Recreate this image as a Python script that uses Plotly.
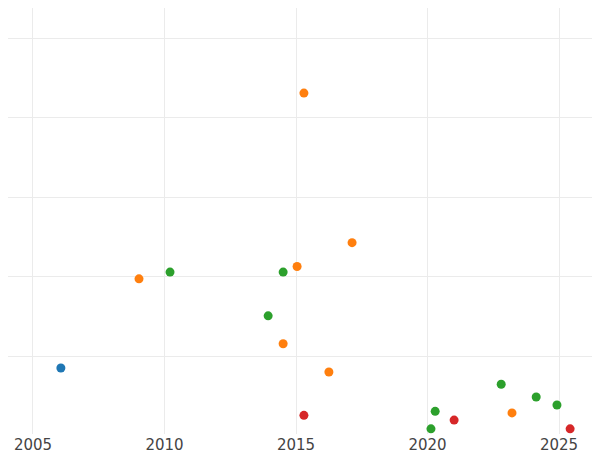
import plotly.graph_objects as go

blue_x=[2006.06]; blue_y=[0.855]
orange_x=[2009.03,2015.30,2017.13,2015.04,2014.51,2016.25,2023.21]
orange_y=[1.975,4.31,2.43,2.13,1.16,0.805,0.29]
green_x=[2010.21,2014.51,2013.94,2020.29,2020.13,2022.80,2024.13,2024.92]
green_y=[2.06,2.06,1.51,0.31,0.09,0.65,0.49,0.39]
red_x=[2015.30,2021.01,2025.42]
red_y=[0.26,0.20,0.09]

fig=go.Figure()
for xs,ys,c in [(blue_x,blue_y,'#1f77b4'),(orange_x,orange_y,'#ff7f0e'),(green_x,green_y,'#2ca02c'),(red_x,red_y,'#d62728')]:
    fig.add_trace(go.Scatter(x=xs,y=ys,mode='markers',marker=dict(color=c,size=9),showlegend=False,cliponaxis=False))
fig.update_layout(width=600,height=450,margin=dict(l=0,r=0,t=0,b=24,pad=0),
    plot_bgcolor='white',paper_bgcolor='white',
    font=dict(family='DejaVu Sans',size=15,color='#444'))
fig.update_xaxes(range=[2004.05,2026.86],tickvals=[2005,2010,2015,2020,2025],automargin=False,
    showgrid=True,gridcolor='#ebebeb',zeroline=False,showline=False,ticklabelstandoff=0)
fig.update_yaxes(range=[0.025,5.38],dtick=1,showticklabels=False,automargin=False,
    showgrid=True,gridcolor='#ebebeb',zeroline=False,showline=False)
fig.write_html("out.html")
